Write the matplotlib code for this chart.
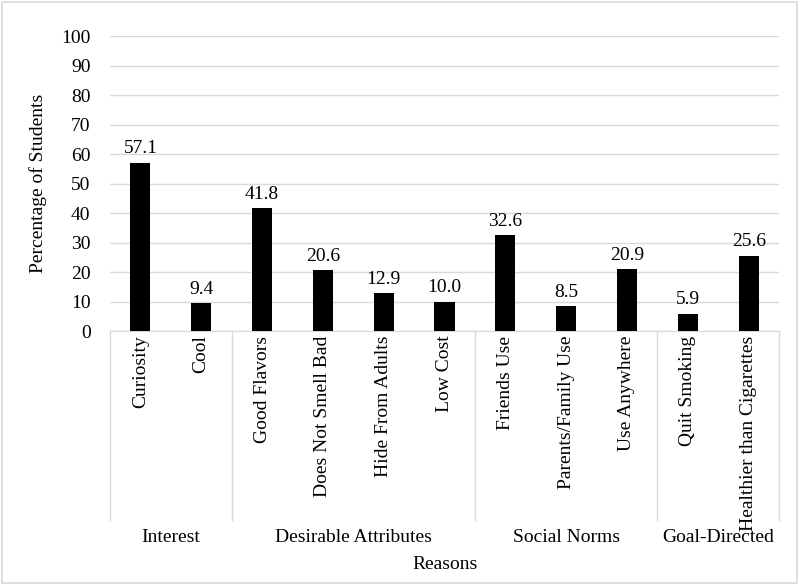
import matplotlib.pyplot as plt
from matplotlib.patches import Rectangle

reasons = ["Curiosity", "Cool", "Good Flavors", "Does Not Smell Bad",
           "Hide From Adults", "Low Cost", "Friends Use", "Parents/Family Use",
           "Use Anywhere", "Quit Smoking", "Healthier than Cigarettes"]
percent = [57.1, 9.4, 41.8, 20.6, 12.9, 10.0, 32.6, 8.5, 20.9, 5.9, 25.6]
groups = ["Interest", "Desirable Attributes", "Social Norms", "Goal-Directed"]
group_sizes = [2, 4, 3, 2]

plt.rcParams['font.family'] = ['Liberation Serif', 'DejaVu Serif']
grid_col = "#d9d9d9"
fs = 14

fig = plt.figure(figsize=(8, 5.85), dpi=100)
ax = fig.add_axes([0.1375, 0.434, 0.8363, 0.504])

x = list(range(len(reasons)))
ax.bar(x, percent, width=0.33, color="black", zorder=3)
for xi, v in zip(x, percent):
    ax.text(xi, v + 1.8, f"{v:.1f}", ha="center", va="bottom", fontsize=fs)

ax.set_xlim(-0.5, len(reasons) - 0.5)
ax.set_ylim(0, 100)
ax.set_yticks(range(0, 101, 10))
ax.tick_params(axis="y", length=0, labelsize=fs, pad=14)
ax.tick_params(axis="x", length=0)
ax.set_xticks([])
ax.yaxis.grid(True, color=grid_col, linewidth=1)
for s in ["top", "right", "left"]:
    ax.spines[s].set_visible(False)
ax.spines["bottom"].set_color(grid_col)
ax.set_ylabel("Percentage of Students", fontsize=fs, labelpad=10)

# category labels
for xi, name in zip(x, reasons):
    ax.text(xi, -0.015, name, transform=ax.get_xaxis_transform(), rotation=90,
            ha="center", va="top", fontsize=fs)

# group separators and labels
start = 0
edges = [-0.5]
for size in group_sizes:
    start += size
    edges.append(start - 0.5)
for e in edges:
    ax.plot([e, e], [0, -0.64], transform=ax.get_xaxis_transform(),
            color=grid_col, linewidth=1, clip_on=False)
for g, a, b in zip(groups, edges[:-1], edges[1:]):
    ax.text((a + b) / 2, -0.70, g, transform=ax.get_xaxis_transform(),
            ha="center", va="center", fontsize=fs)
ax.text(0.5, -0.79, "Reasons", transform=ax.transAxes,
        ha="center", va="center", fontsize=fs)

fig.patches.append(Rectangle((0.002, 0.004), 0.994, 0.992, transform=fig.transFigure,
                             fill=False, edgecolor=grid_col, linewidth=1.2))

fig.savefig("out.png", dpi=100)
